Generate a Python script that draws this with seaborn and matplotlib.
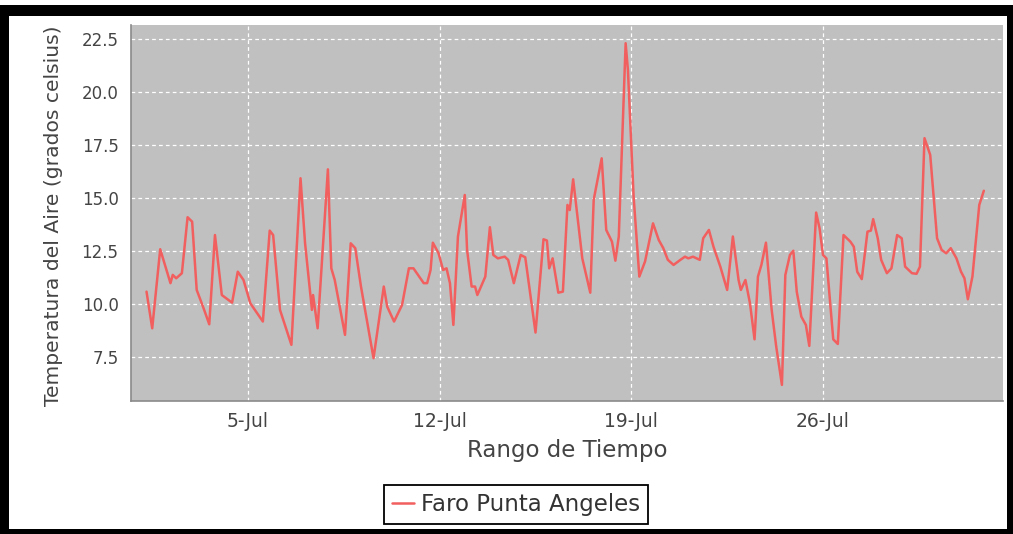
import matplotlib
matplotlib.use("Agg")
import matplotlib.pyplot as plt
import matplotlib.dates as mdates
from matplotlib.patches import Rectangle
import numpy as np
import pandas as pd
import seaborn as sns

# ---- data (hours since 1 Jul 00:00, air temperature in deg C) ----
hours = [7, 12, 19, 28, 30, 33, 38, 43, 47, 51, 57, 62, 67, 73, 82, 87, 92, 98, 109,
         115, 118, 124, 134, 142, 146, 152, 153, 157, 166, 169, 172, 181, 186, 190, 195,
         206, 215, 218, 224, 231, 237, 241, 250, 253, 256, 258, 263, 267, 270, 273, 276,
         280, 286, 288, 292, 295, 297, 304, 308, 311, 315, 321, 324, 329, 335, 339, 348,
         355, 358, 360, 363, 368, 372, 376, 378, 381, 389, 396, 399, 406, 410, 415, 418,
         421, 427, 429, 434, 439, 444, 451, 456, 460, 464, 469, 475, 479, 482, 486, 492,
         495, 500, 504, 510, 516, 521, 526, 528, 532, 536, 540, 543, 546, 550, 555, 559,
         564, 567, 571, 574, 577, 581, 585, 588, 594, 597, 600, 603, 609, 613, 618, 624,
         627, 630, 634, 639, 642, 644, 648, 651, 656, 660, 665, 669, 672, 678, 682, 685,
         689, 694, 700, 704, 708, 712, 717, 721, 724, 727, 731, 737, 741]
temps = [10.58, 8.85, 12.58, 10.98, 11.37, 11.21, 11.45, 14.09, 13.88, 10.66, 9.80, 9.04,
         13.25, 10.42, 10.06, 11.52, 11.13, 10.03, 9.17,
         13.46, 13.25, 9.72, 8.07, 15.93, 12.86, 9.72, 10.42, 8.85, 16.35, 11.68, 11.13,
         8.54, 12.86, 12.63, 10.82,
         7.44, 10.82, 9.87, 9.17, 9.95, 11.68, 11.68, 10.98, 10.98, 11.60, 12.89, 12.39,
         11.60, 11.68, 10.98, 9.01,
         13.18, 15.14, 12.55, 10.82, 10.82, 10.42, 11.29, 13.62, 12.31, 12.15, 12.23,
         12.08, 10.98, 12.31, 12.20, 8.65,
         13.05, 12.99, 11.68, 12.15, 10.53, 10.58, 14.67, 14.43, 15.88, 12.15, 10.53,
         14.91, 16.87, 13.49, 12.94, 12.04,
         13.18, 22.30, 21.04, 15.06, 11.29, 12.00, 13.80, 13.02, 12.63, 12.08, 11.84,
         12.08, 12.23, 12.15, 12.23, 12.08,
         13.10, 13.49, 12.70, 11.76, 10.66, 13.18, 11.13, 10.66, 11.13, 10.03, 8.33,
         11.29, 11.84, 12.89, 9.72, 7.99,
         6.18, 11.37, 12.31, 12.51, 10.58, 9.40, 9.01, 8.02, 14.31, 13.57, 12.31, 12.15,
         8.33, 8.11, 13.25, 12.94,
         12.70, 11.52, 11.17, 13.41, 13.46, 14.00, 13.10, 12.08, 11.45, 11.68, 13.25,
         13.10, 11.76, 11.45, 11.42, 11.76,
         17.82, 17.03, 13.10, 12.55, 12.39, 12.63, 12.15, 11.52, 11.21, 10.22, 11.29,
         14.67, 15.34]
series_name = "Faro Punta Angeles"
tick_dates = ["2014-07-05", "2014-07-12", "2014-07-19", "2014-07-26"]
y_ticks = [7.5, 10.0, 12.5, 15.0, 17.5, 20.0, 22.5]
x_label = "Rango de Tiempo"
y_label = "Temperatura del Aire (grados celsius)"

start = pd.Timestamp("2014-07-01")
df = pd.DataFrame({
    "fecha": start + pd.to_timedelta(hours, unit="h"),
    "temp": temps,
    "serie": series_name,
})

sns.set_style("white")
plt.rcParams["font.family"] = ["DejaVu Sans"]

W, H = 1013, 534
fig = plt.figure(figsize=(W / 100, H / 100), dpi=100)
fig.patch.set_facecolor("white")
L, R, T, B = 131, 1003, 25, 401
ax = fig.add_axes([L / W, 1 - B / H, (R - L) / W, (B - T) / H])
ax.set_facecolor("#C0C0C0")

sns.lineplot(data=df, x="fecha", y="temp", hue="serie", palette=["#F25F5F"],
             linewidth=1.8, ax=ax, legend=True, estimator=None, sort=False)

ax.set_xlim(start + pd.Timedelta(hours=-6.6), start + pd.Timedelta(hours=757.8))
ax.set_ylim(5.42, 23.16)
ax.set_yticks(y_ticks)
ax.set_yticklabels([f"{v:.1f}" for v in y_ticks])
ax.set_xticks(pd.to_datetime(tick_dates))
ax.xaxis.set_major_formatter(mdates.DateFormatter("%-d-%b"))

ax.grid(True, color="white", linestyle=(0, (3, 2.5)), linewidth=0.9)
for s in ["top", "right"]:
    ax.spines[s].set_visible(False)
for s in ["left", "bottom"]:
    ax.spines[s].set_color("#8a8a8a")
    ax.spines[s].set_linewidth(1.2)

ax.tick_params(axis="both", direction="out", length=3, width=1, color="#8a8a8a",
               colors="#444444")
ax.tick_params(axis="y", labelsize=12, pad=6, labelcolor="#444444")
ax.tick_params(axis="x", labelsize=13.5, pad=5, labelcolor="#444444")
for lab in ax.get_xticklabels() + ax.get_yticklabels():
    lab.set_color("#444444")

ax.set_xlabel(x_label, fontsize=16.5, color="#444444", labelpad=6)
ax.set_ylabel(y_label, fontsize=14.6, color="#444444", ha="left")
ax.yaxis.set_label_coords((63 - L) / (R - L), (B - 406) / (B - T))

leg = ax.legend(loc="center", bbox_to_anchor=(516 / W, 1 - 504.5 / H),
                bbox_transform=fig.transFigure, fontsize=16.5, frameon=True,
                fancybox=False, framealpha=1, edgecolor="black",
                handlelength=1.0, handletextpad=0.3, borderpad=0.35,
                borderaxespad=0)
leg.get_frame().set_linewidth(1.3)
for t in leg.get_texts():
    t.set_color("#333333")
for h in leg.get_lines():
    h.set_linewidth(1.8)

# black outer frame
def band(x0, y0, x1, y1):
    fig.patches.append(Rectangle((x0 / W, 1 - y1 / H), (x1 - x0) / W, (y1 - y0) / H,
                                 transform=fig.transFigure, facecolor="black",
                                 edgecolor="none", zorder=20))
band(0, 5, W, 16)
band(0, 5, 9, H)
band(1007, 5, W, H)
band(0, 529, W, H)

fig.savefig("out.png", dpi=100)
